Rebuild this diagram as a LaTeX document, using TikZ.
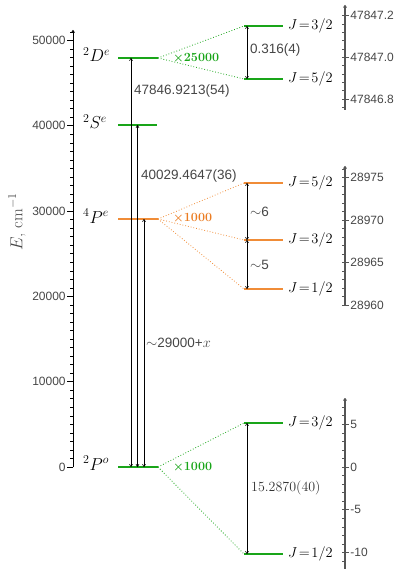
\documentclass[tikz,border=0pt]{standalone}
\usepackage{amsmath}
\usepackage{fontspec}
\newfontfamily\labfont{Liberation Sans}
\usetikzlibrary{arrows.meta}
\definecolor{lvgreen}{RGB}{25,165,25}
\definecolor{lvorange}{RGB}{240,140,55}
\definecolor{facorange}{RGB}{235,125,35}
\definecolor{txtgray}{RGB}{70,70,70}
\definecolor{axgray}{RGB}{85,85,85}
\begin{document}
\begin{tikzpicture}[x=1pt,y=-1pt,
  lvl/.style={line width=2.4pt},
  sublvl/.style={line width=2pt},
  split/.style={dotted, line width=0.8pt},
  trans/.style={{To[length=3pt,width=3.5pt]}-{To[length=3pt,width=3.5pt]}, line width=0.6pt},
  ticklab/.style={font=\labfont\fontsize{12}{14}\selectfont, text=txtgray, inner sep=1pt},
  ann/.style={font=\labfont\fontsize{13.5}{16}\selectfont, text=txtgray, anchor=west, inner sep=1pt},
  term/.style={font=\fontsize{16.5}{19}\selectfont, anchor=base west, inner sep=0pt},
  jlab/.style={font=\fontsize{13.5}{16}\selectfont, anchor=west, inner sep=0pt},
  factor/.style={font=\bfseries\fontsize{12.5}{15}\selectfont, anchor=west, inner sep=0pt},
  raxis/.style={draw=axgray, line width=1.2pt, -{To[length=3pt,width=3.5pt]}},
  mintick/.style={line width=0.6pt}]
\useasboundingbox (0,0) rectangle (400,569);

% ---- main axis
\coordinate (axbot) at (73,467);
\coordinate (axtop) at (73,30);
\draw[line width=0.9pt, -{To[length=3pt,width=3.5pt]}] (axbot) -- (axtop);
\foreach \k in {0,...,51} \draw[mintick] (73,467-\k*8.53) -- ++(-3,0);
\foreach \k/\lab in {0/0,1/10000,2/20000,3/30000,4/40000,5/50000}
  \draw[line width=0.7pt] (73,467-\k*85.3) -- ++(-6,0) node[left, ticklab] {\lab};
\node[rotate=90, font=\fontsize{16.5}{19}\selectfont, text=txtgray] (elab) at (17,222) {$E$, cm$^{-1}$};

% ---- main levels
\coordinate (Dl) at (118,58);  \coordinate (Dr) at (158,58);
\coordinate (Sl) at (118,125); \coordinate (Sr) at (157,125);
\coordinate (Pl) at (118,219); \coordinate (Pr) at (158,219);
\coordinate (Gl) at (118,467); \coordinate (Gr) at (158,467);
\draw[lvl, lvgreen] (Dl) -- (Dr);
\draw[lvl, lvgreen] (Sl) -- (Sr);
\draw[lvl, lvorange] (Pl) -- (Pr);
\draw[lvl, lvgreen] (Gl) -- (Gr);
\node[term] (Dlab) at (83,62) {$^2D^e$};
\node[term] (Slab) at (83,129) {$^2S^e$};
\node[term] (Plab) at (83,223) {$^4P^e$};
\node[term] (Glab) at (83,470) {$^2P^o$};

% ---- transitions
\coordinate (t1b) at (131,467); \coordinate (t1t) at (131,58);
\coordinate (t2b) at (137.5,467); \coordinate (t2t) at (137.5,125);
\coordinate (t3b) at (144,467); \coordinate (t3t) at (144,219);
\draw[trans] (t1b) -- (t1t);
\draw[trans] (t2b) -- (t2t);
\draw[trans] (t3b) -- (t3t);
\node[ann] (a1) at (133,91) {47846.9213(54)};
\node[ann] (a2) at (140,176) {40029.4647(36)};
\node[ann] (a3) at (145,343) {$\sim$29000+$x$};

% ---- 2D splitting
\coordinate (D32l) at (244,26); \coordinate (D32r) at (283,26);
\coordinate (D52l) at (244,79); \coordinate (D52r) at (283,79);
\draw[split, lvgreen] (Dr) -- (D32l);
\draw[split, lvgreen] (Dr) -- (D52l);
\draw[sublvl, lvgreen] (D32l) -- (D32r);
\draw[sublvl, lvgreen] (D52l) -- (D52r);
\node[jlab] (jD32) at (288,26) {$J\!=\!3/2$};
\node[jlab] (jD52) at (288,79) {$J\!=\!5/2$};
\node[factor, text=lvgreen] (fD) at (173,58) {$\boldsymbol{\times}$25000};
\coordinate (dDa) at (247,26); \coordinate (dDb) at (247,79);
\draw[trans] (dDa) -- (dDb);
\node[ann] (aD) at (249,50) {0.316(4)};

% ---- 4P splitting
\coordinate (P52l) at (244,183); \coordinate (P52r) at (283,183);
\coordinate (P32l) at (244,240); \coordinate (P32r) at (283,240);
\coordinate (P12l) at (244,289); \coordinate (P12r) at (283,289);
\draw[split, lvorange] (Pr) -- (P52l);
\draw[split, lvorange] (Pr) -- (P32l);
\draw[split, lvorange] (Pr) -- (P12l);
\draw[sublvl, lvorange] (P52l) -- (P52r);
\draw[sublvl, lvorange] (P32l) -- (P32r);
\draw[sublvl, lvorange] (P12l) -- (P12r);
\node[jlab] (jP52) at (288,183) {$J\!=\!5/2$};
\node[jlab] (jP32) at (288,240) {$J\!=\!3/2$};
\node[jlab] (jP12) at (288,289) {$J\!=\!1/2$};
\node[factor, text=facorange] (fP) at (173,218) {$\boldsymbol{\times}$1000};
\coordinate (dPa) at (247,183); \coordinate (dPb) at (247,240); \coordinate (dPc) at (247,289);
\draw[trans] (dPa) -- (dPb);
\draw[trans] (dPb) -- (dPc);
\node[ann] (aP1) at (249,212) {$\sim$6};
\node[ann] (aP2) at (249,265) {$\sim$5};

% ---- 2P splitting
\coordinate (G32l) at (244,423); \coordinate (G32r) at (283,423);
\coordinate (G12l) at (244,554); \coordinate (G12r) at (283,554);
\draw[split, lvgreen] (Gr) -- (G32l);
\draw[split, lvgreen] (Gr) -- (G12l);
\draw[sublvl, lvgreen] (G32l) -- (G32r);
\draw[sublvl, lvgreen] (G12l) -- (G12r);
\node[jlab] (jG32) at (288,423) {$J\!=\!3/2$};
\node[jlab] (jG12) at (288,554) {$J\!=\!1/2$};
\node[factor, text=lvgreen] (fG) at (173,467) {$\boldsymbol{\times}$1000};
\coordinate (dGa) at (247,423); \coordinate (dGb) at (247,554);
\draw[trans] (dGa) -- (dGb);
\node[ann, font=\fontsize{14}{17}\selectfont, text=black!80] (aG) at (250,488) {15.2870(40)};

% ---- right axis 1 (2D)
\coordinate (r1b) at (345,110); \coordinate (r1t) at (345,5);
\draw[raxis] (r1b) -- (r1t);
\foreach \k in {-6,...,5} \draw[mintick, axgray] (345,57.3-\k*8.34) -- ++(-3,0);
\foreach \k/\lab in {-1/47846.8,0/47847.0,1/47847.2}
  \draw[line width=0.8pt, axgray] (345,57.3-\k*41.7) -- ++(4,0) node[right, ticklab] {\lab};

% ---- right axis 2 (4P)
\coordinate (r2b) at (345,305); \coordinate (r2t) at (345,166);
\draw[raxis] (r2b) -- (r2t);
\foreach \k in {-10,...,6} \draw[mintick, axgray] (345,220-\k*8.5) -- ++(-3,0);
\foreach \k/\lab in {-2/28960,-1/28965,0/28970,1/28975}
  \draw[line width=0.8pt, axgray] (345,220-\k*42.5) -- ++(4,0) node[right, ticklab] {\lab};

% ---- right axis 3 (2P)
\coordinate (r3b) at (345,569); \coordinate (r3t) at (345,398);
\draw[raxis] (r3b) -- (r3t);
\foreach \k in {-11,...,7} \draw[mintick, axgray] (345,467-\k*8.55) -- ++(-3,0);
\foreach \k/\lab in {-2/-10,-1/-5,0/0,1/5}
  \draw[line width=0.8pt, axgray] (345,467-\k*42.75) -- ++(4,0) node[right, ticklab] {\lab};
\end{tikzpicture}
\end{document}
